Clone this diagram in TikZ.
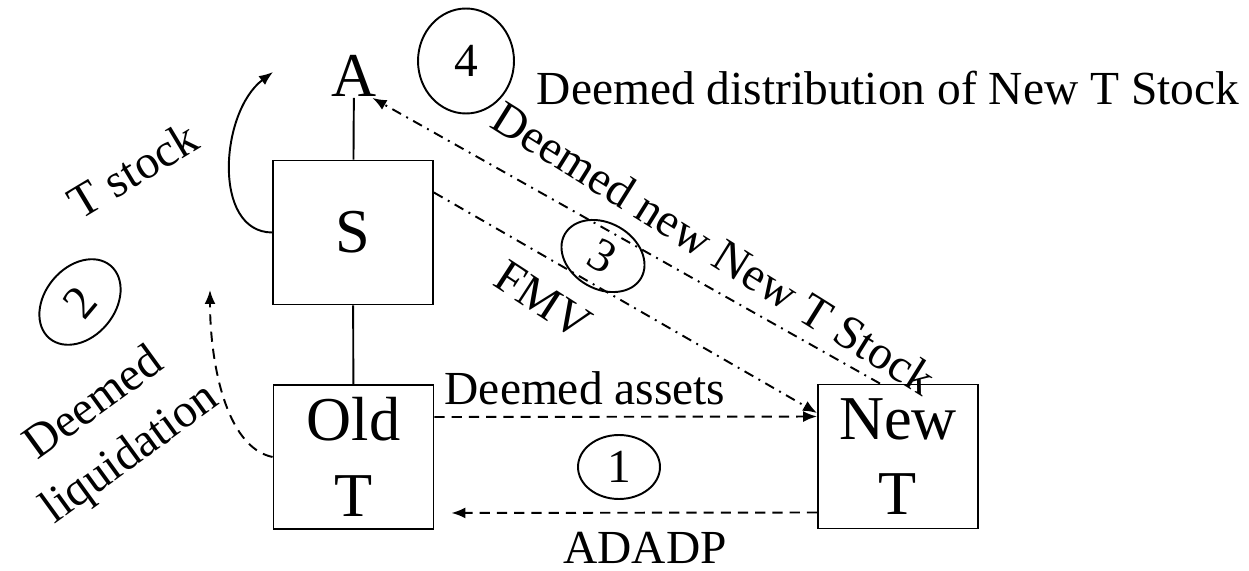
\documentclass[tikz,border=0pt]{standalone}
\usepackage{fontspec}
\setmainfont{Liberation Serif}
\usetikzlibrary{arrows.meta,shapes.geometric}
\newcommand\bigfont{\fontsize{35.5}{43}\selectfont}
\newcommand\lblfont{\fontsize{27}{35}\selectfont}
\begin{document}
\begin{tikzpicture}[x=0.02cm, y=-0.02cm, line width=1.1pt,
  box/.style={draw,minimum width=3.2cm,minimum height=2.88cm,inner sep=0pt,align=center,font=\bigfont},
  lbl/.style={font=\lblfont,inner sep=0pt,align=center},
  num/.style={draw,ellipse,inner sep=0pt,font=\lblfont},
  tip/.style={-{Latex[length=0.28cm,width=0.22cm]}},
  dashline/.style={dash pattern=on 5.8pt off 4pt},
  dotdash/.style={dash pattern=on 5.7pt off 3.4pt on 1.1pt off 3.4pt}]
\useasboundingbox (0,0) rectangle (1249,571);
% entities
\node[box] (S) at (353,232.5) {S};
\node[box] (Old) at (353.5,457) {Old\\T};
\node[box] (New) at (898,456.5) {New\\T};
\node[font=\bigfont,inner sep=0pt,anchor=base] (A) at (354,97) {A};
\draw (A) -- (S);
\draw (S) -- (Old);
% steps
\draw[dashline,tip] ([yshift=0.8cm]Old.east) -- ([yshift=0.8cm]New.west);
\draw[dashline,tip,shorten >=0.34cm] ([yshift=-1.12cm]New.west) -- ([yshift=-1.12cm]Old.east);
\coordinate (liqend) at (210,290);
\draw[dashline,tip] (Old.west) .. controls (225,447) and (210,360) .. (liqend);
\coordinate (tsend) at (273,72);
\draw[tip] (S.west) .. controls (212,232) and (220,112) .. (tsend);
\draw[dotdash,tip] ([yshift=0.8cm]S.east) -- ([yshift=0.87cm]New.west);
\draw[dotdash,tip] ([xshift=-0.36cm]New.north) -- ([xshift=-0.1cm]A.south east);
% labels
\node[lbl,anchor=base] (distlbl) at (888,105) {Deemed distribution of New T Stock};
\node[lbl,anchor=base] (assetslbl) at (585,404) {Deemed assets};
\node[lbl,anchor=base] (adadplbl) at (645,563) {ADADP};
\node[lbl,rotate=-33] (fmvlbl) at (543,300) {FMV};
\node[lbl,rotate=-32] (newstocklbl) at (714,248) {Deemed new New T Stock};
\node[lbl,rotate=31] (tstocklbl) at (133,170) {T stock};
\node[lbl,rotate=36] (liqlbl) at (113,430) {Deemed\\liquidation};
% step numbers
\node[num,minimum width=1.92cm,minimum height=2.1cm] (n4) at (466,61) {4};
\node[num,minimum width=1.76cm,minimum height=1.32cm,rotate=-30] (n3) at (603,256) {3};
\node[num,minimum width=1.9cm,minimum height=1.4cm,rotate=50] (n2) at (80,302) {2};
\node[num,minimum width=1.64cm,minimum height=1.28cm] (n1) at (619,467) {1};
\end{tikzpicture}
\end{document}
